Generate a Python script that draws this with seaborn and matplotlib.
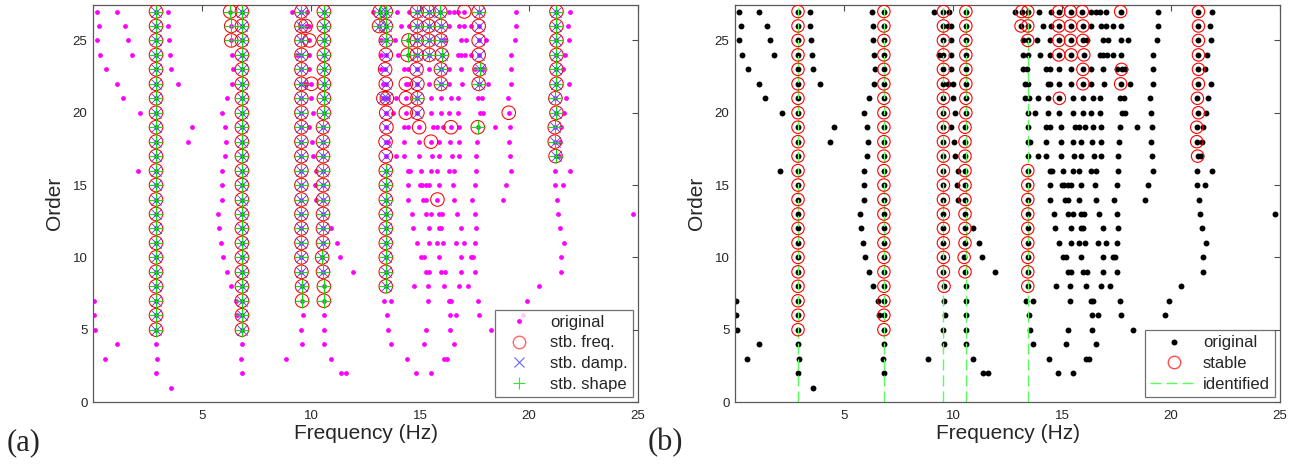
import pandas as pd
import seaborn as sns
import matplotlib.pyplot as plt
from matplotlib.lines import Line2D

# Poles per model order (frequency in Hz). A letter after a value marks stability:
# a = freq + damp + shape, d = freq + damp, s = freq + shape, f = freq only
poles_27 = "0.20 1.12 2.89a 3.44 6.29s 6.83a 9.13 9.56a 9.82 10.59a 12.84 13.15a 13.43a 13.96 14.50 14.85a 15.39a 15.93a 16.34 16.54 16.73 17.03f 17.69a 19.41 21.26a 21.87"
poles_26 = "0.26 1.46 2.89a 3.44 6.34s 6.83a 9.56a 9.75f 9.93 10.59a 13.12a 13.43a 14.12 14.50 14.85a 15.39a 15.96a 16.34 16.81 17.03 17.34 17.69d 19.41 21.26a 21.79"
poles_25 = "0.20 1.61 2.89a 3.48 6.34s 6.83a 9.56a 9.93f 10.59a 13.20 13.43a 13.85 14.47s 14.85a 15.39a 15.96a 16.16 16.88 17.11 17.69d 18.03 19.34 21.26a 21.84"
poles_24 = "0.30 1.81 2.89a 3.53 6.38 6.83a 9.36 9.56a 9.93 10.59a 13.20 13.43d 14.01 14.43s 14.85a 15.42a 16.00a 16.73 16.88 17.08 17.34 17.69d 19.18 21.26a 21.64"
poles_23 = "0.61 2.89a 3.58 6.41 6.83a 9.56a 9.93 10.59a 13.20 13.40d 14.27 14.43 14.84d 15.39 15.96a 16.31 16.88 17.50 17.73a 17.91 19.18 21.26a 21.56"
poles_22 = "1.12 2.89a 3.91 6.37 6.83a 9.56a 9.78 10.02f 10.59a 13.30 13.43d 14.35f 14.47 14.88d 15.42 15.96a 16.34 16.93 17.69a 18.11 19.18 21.26a 21.84"
poles_21 = "1.38 2.89a 6.14 6.83a 9.56a 10.02 10.59a 13.32d 13.48d 13.92 14.35f 14.88a 15.50 15.96 16.42 16.73 17.65 17.85 19.03 21.21a 21.68"
poles_20 = "2.15 2.89a 5.94 6.83a 9.56a 10.10 10.59a 13.45d 13.75 14.35f 14.88d 15.50 15.96 16.34 16.73 17.73 17.91 19.07f 21.26a 21.60"
poles_19 = "2.89a 4.53 6.06 6.83a 9.56a 9.93 10.55a 13.46d 14.27 14.43 14.96f 15.60 15.80 16.04 16.42f 16.81 17.65s 18.46 19.14 21.18a 21.49"
poles_18 = "2.89a 4.34 6.09 6.83a 9.56a 10.05 10.55a 13.42d 13.55 14.27 14.96 15.50f 15.88 16.37 16.81 17.60 19.07 21.18a 21.41"
poles_17 = "2.89a 6.06 6.83a 9.56a 10.10 10.55a 13.43d 13.92 14.27 14.96 15.55 15.86 16.47 16.77 17.57 19.11 21.22a 21.36"
poles_16 = "2.07 2.89a 5.94 6.83a 9.56a 10.23 10.55a 13.43a 14.43 14.53 15.04 15.50 15.80 16.34 16.57 17.57 19.18 21.18 21.87"
poles_15 = "2.89a 5.94 6.83a 9.56a 10.18 10.55a 13.43a 14.47 15.00 15.10 15.27 15.42 15.88 16.53 17.54 18.95 21.21 21.56"
poles_14 = "2.89a 5.94 6.83a 9.56a 10.23 10.55a 13.43a 14.43 15.15 15.27 15.80f 16.57 17.39 18.83 21.29"
poles_13 = "2.89a 5.72 6.83a 9.56a 10.55a 13.43a 14.62 15.27 15.50 15.88 16.00 16.68 17.54 21.33 24.78"
poles_12 = "2.89a 5.80 6.83a 9.56a 10.55a 10.93 13.43a 14.66 15.39 15.88 15.96 16.88 17.57 21.41"
poles_11 = "2.89a 5.88 6.83a 9.56a 10.55a 11.20 13.43a 14.85 15.39 15.78 16.04 16.65 17.00 17.50 21.60"
poles_10 = "2.89a 5.95 6.83a 9.56a 10.51a 11.33 13.43a 15.04 15.20 15.88 16.88 17.34 17.45 21.48"
poles_9 = "2.89a 6.14 6.83a 9.56a 10.55a 11.93 13.43a 15.27 15.39 15.96 16.16 16.88 17.50 21.45"
poles_8 = "2.89a 6.34 6.83a 9.59a 10.59s 13.43a 14.73 15.35 16.11 16.77 17.19 20.44"
poles_7 = "0.03 2.89a 6.55 6.83a 9.59s 10.59s 13.36 13.66 15.35 16.34 16.42 17.65 19.90"
poles_6 = "0.03 2.89a 6.60 6.83a 9.64 10.59 13.50 16.37 16.65 17.69 19.72"
poles_5 = "0.08 2.89a 6.83a 9.52 10.59 13.55 15.27 16.37 18.27"
poles_4 = "1.12 2.89 6.83 9.59 10.59 13.66 15.20 16.57"
poles_3 = "0.54 2.93 6.78 8.86 10.94 14.39 16.11 16.22"
poles_2 = "2.89 6.83 11.36 11.59 14.81 15.50"
poles_1 = "3.58"

identified = [2.89, 6.83, 9.56, 10.59, 13.43]

poles = {27: poles_27, 26: poles_26, 25: poles_25, 24: poles_24, 23: poles_23,
         22: poles_22, 21: poles_21, 20: poles_20, 19: poles_19, 18: poles_18,
         17: poles_17, 16: poles_16, 15: poles_15, 14: poles_14, 13: poles_13,
         12: poles_12, 11: poles_11, 10: poles_10, 9: poles_9, 8: poles_8,
         7: poles_7, 6: poles_6, 5: poles_5, 4: poles_4, 3: poles_3,
         2: poles_2, 1: poles_1}

rows = []
for order, text in poles.items():
    for tok in text.split():
        flag = tok[-1] if tok[-1].isalpha() else ""
        rows.append((float(tok.rstrip("adsf")), order, flag))
df = pd.DataFrame(rows, columns=["freq", "order", "flag"])

stb_freq = df[df.flag != ""]
stb_damp = df[df.flag.isin(["a", "d"])]
stb_shape = df[df.flag.isin(["a", "s"])]
stb_all = df[df.flag == "a"]

sns.set_theme(style="white")
plt.rcParams["font.family"] = ["Liberation Sans", "DejaVu Sans"]

W, H = 1305, 465
fig = plt.figure(figsize=(W / 100, H / 100), dpi=100)
ax1 = fig.add_axes([93 / W, 1 - 402 / H, 545 / W, 397 / H])
ax2 = fig.add_axes([735 / W, 1 - 402 / H, 545 / W, 397 / H])

green_line = (0.35, 1.0, 0.35)

# (a) stabilization diagram with the three criteria
sns.scatterplot(data=df, x="freq", y="order", ax=ax1, color="magenta",
                marker="o", s=12, linewidth=0, zorder=2)
sns.scatterplot(data=stb_freq, x="freq", y="order", ax=ax1, color="red",
                facecolor="none", edgecolor="red", marker="o", s=95,
                linewidth=0.75, zorder=3)
sns.scatterplot(data=stb_damp, x="freq", y="order", ax=ax1, color=(0.25, 0.25, 1),
                marker="x", s=55, linewidth=0.6, zorder=4)
sns.scatterplot(data=stb_shape, x="freq", y="order", ax=ax1, color=(0, 0.9, 0),
                marker="+", s=90, linewidth=0.8, zorder=5)

# (b) stable poles and identified modes
sns.scatterplot(data=df, x="freq", y="order", ax=ax2, color="black",
                marker="o", s=18, linewidth=0, zorder=2)
for f in identified:
    ax2.axvline(f, color=green_line, lw=1.0, dashes=(8, 3.5), zorder=2.5)
sns.scatterplot(data=stb_all, x="freq", y="order", ax=ax2, color="red",
                facecolor="none", edgecolor="red", marker="o", s=80,
                linewidth=0.8, zorder=3)

for ax in (ax1, ax2):
    ax.set_xlim(0, 25)
    ax.set_ylim(0, 27.45)
    ax.set_xticks([5, 10, 15, 20, 25])
    ax.set_yticks([0, 5, 10, 15, 20, 25])
    ax.tick_params(direction="in", top=True, right=True, length=4,
                   width=0.8, color="0.3", labelsize=9.5, pad=4)
    ax.tick_params(axis="x", pad=6)
    for sp in ax.spines.values():
        sp.set_color("0.35")
        sp.set_linewidth(0.9)
    ax.set_xlabel("Frequency (Hz)", fontsize=15, labelpad=1)
    ax.set_ylabel("Order", fontsize=15, labelpad=6)

h1 = [Line2D([], [], ls="none", marker="o", ms=3.5, mfc="magenta", mec="none"),
      Line2D([], [], ls="none", marker="o", ms=9, mfc="none", mec=(1, 0.4, 0.4)),
      Line2D([], [], ls="none", marker="x", ms=7, mec=(0.4, 0.4, 1), mew=0.8),
      Line2D([], [], ls="none", marker="+", ms=9, mec=(0.2, 0.9, 0.2), mew=0.8)]
leg1 = ax1.legend(h1, ["original", "stb. freq.", "stb. damp.", "stb. shape"],
                  loc="lower right", fontsize=12, frameon=True, fancybox=False,
                  edgecolor="0.3", borderaxespad=0.3, handlelength=2.2,
                  handletextpad=0.8, labelspacing=0.35, borderpad=0.3)
leg1.get_frame().set_linewidth(0.9)

h2 = [Line2D([], [], ls="none", marker="o", ms=4.3, mfc="black", mec="none"),
      Line2D([], [], ls="none", marker="o", ms=9, mfc="none", mec=(1, 0.3, 0.3)),
      Line2D([], [], color=green_line, lw=1.0, dashes=(8, 3.5))]
leg2 = ax2.legend(h2, ["original", "stable", "identified"],
                  loc="lower right", fontsize=12, frameon=True, fancybox=False,
                  edgecolor="0.3", borderaxespad=0.3, handlelength=2.9,
                  handletextpad=0.3, labelspacing=0.35, borderpad=0.3)
leg2.get_frame().set_linewidth(0.9)

fig.text(7 / W, 1 - 443 / H, "(a)", fontsize=22, va="center",
         family=["Liberation Serif", "DejaVu Serif"])
fig.text(648 / W, 1 - 443 / H, "(b)", fontsize=22, va="center",
         family=["Liberation Serif", "DejaVu Serif"])

fig.savefig("out.png", dpi=100)
